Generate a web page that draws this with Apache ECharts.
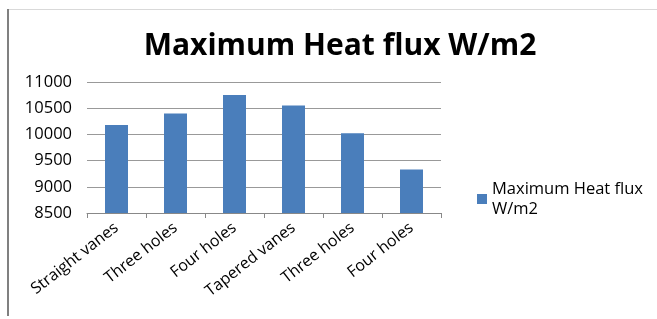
<!DOCTYPE html>
<html><head><meta charset="utf-8">
<script src="https://cdn.jsdelivr.net/npm/echarts@6/dist/echarts.min.js"></script>
<style>html,body{margin:0;padding:0;background:#fff}#c{width:657px;height:319px}</style>
</head><body><div id="c"></div>
<script>
const categories = ['Straight vanes','Three holes','Four holes','Tapered vanes','Three holes','Four holes'];
const values = [10180, 10400, 10750, 10550, 10020, 9330];
const seriesName = 'Maximum Heat flux W/m2';
const titleText = 'Maximum Heat flux W/m2';

const chart = echarts.init(document.getElementById('c'));
const font = 'Open Sans';
chart.setOption({
  animation: false,
  backgroundColor: '#fff',
  title: {
    text: titleText, left: 335, top: 26, textAlign: 'center',
    textStyle: {fontFamily: font, fontSize: 30, fontWeight: 'bold', color: '#000'}
  },
  legend: {
    left: 472, top: 174, orient: 'vertical', icon: 'rect', itemWidth: 10, itemHeight: 10, itemGap: 4,
    textStyle: {fontFamily: font, fontSize: 16.5, color: '#000', width: 170, overflow: 'break', lineHeight: 20}
  },
  grid: {left: 87, right: 216, top: 82, bottom: 106, containLabel: false},
  xAxis: {
    type: 'category', data: categories,
    axisLine: {lineStyle: {color: '#888', width: 1}},
    axisTick: {show: true, length: 5, lineStyle: {color: '#888'}},
    axisLabel: {rotate: 38, interval: 0, fontFamily: font, fontSize: 16, color: '#000', margin: 13}
  },
  yAxis: {
    type: 'value', min: 8500, max: 11000, interval: 500,
    axisLine: {show: false}, axisTick: {show: false},
    splitLine: {lineStyle: {color: '#999', width: 1}},
    axisLabel: {fontFamily: font, fontSize: 16.5, color: '#000', margin: 15, formatter: v => String(v)}
  },
  series: [{
    name: seriesName, type: 'bar', data: values, barWidth: 23,
    itemStyle: {color: '#4a7ebb'}
  }],
  graphic: [
    {type: 'line', shape: {x1: 8, y1: 9.5, x2: 657, y2: 9.5}, style: {stroke: '#d9d9d9', lineWidth: 1}},
    {type: 'line', shape: {x1: 8, y1: 9, x2: 8, y2: 316}, style: {stroke: '#808080', lineWidth: 2}}
  ]
});
</script></body></html>
